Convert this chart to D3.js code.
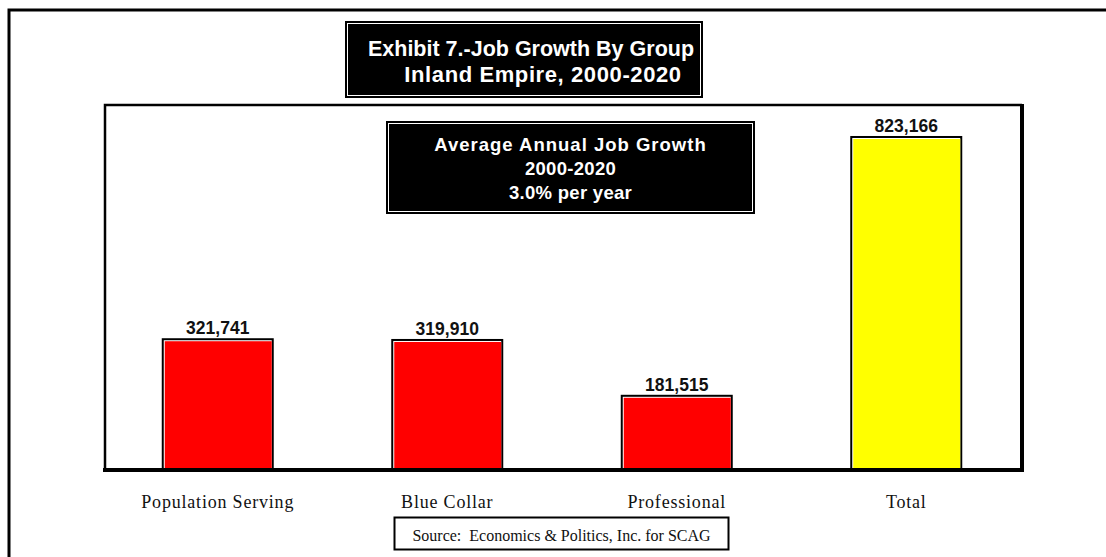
<!DOCTYPE html>
<html>
<head>
<meta charset="utf-8">
<script src="https://cdn.jsdelivr.net/npm/d3@7"></script>
<style>
  html, body { margin: 0; padding: 0; background: #fff; }
  svg { display: block; }
  .bold { font-family: "Liberation Sans", Arial, sans-serif; font-weight: bold; }
  .serif { font-family: "Liberation Serif", "Times New Roman", serif; }
</style>
</head>
<body>
<svg id="chart" width="1106" height="557"></svg>
<script>
// Job growth by group, Inland Empire 2000-2020
const categories = ["Population Serving", "Blue Collar", "Professional", "Total"];
const jobGrowth = [321741, 319910, 181515, 823166];
const valueLabels = ["321,741", "319,910", "181,515", "823,166"];
const titleLines = ["Exhibit 7.-Job Growth By Group", "Inland Empire, 2000-2020"];
const noteLines = ["Average Annual Job Growth", "2000-2020", "3.0% per year"];
const sourceText = "Source:  Economics & Politics, Inc. for SCAG";

const data = categories.map((c, i) => ({ category: c, value: jobGrowth[i], label: valueLabels[i] }));

const svg = d3.select("#chart");

// plot area
const plot = { left: 105, right: 1022, top: 105, bottom: 470 };
const baseY = 468;

const x = d3.scaleBand()
  .domain(categories)
  .range([103, 1021])
  .paddingInner(0.512)
  .paddingOuter(0.256);

const y = d3.scaleLinear()
  .domain([0, 900000])
  .range([baseY, 105]);

// outer page frame (open to the right and bottom)
svg.append("path")
  .attr("d", "M9,557 V10 H1106")
  .attr("fill", "none")
  .attr("stroke", "#000")
  .attr("stroke-width", 3);

// plot frame: thin top/left, heavy right/bottom
svg.append("path")
  .attr("d", `M${plot.left},${plot.bottom} V${plot.top} H${plot.right}`)
  .attr("fill", "none").attr("stroke", "#000").attr("stroke-width", 2.5);
svg.append("path")
  .attr("d", `M${plot.right},${plot.top - 1} V${plot.bottom} H${plot.left - 2}`)
  .attr("fill", "none").attr("stroke", "#000").attr("stroke-width", 4);

// framed black box with a thin inner white rule
function framedBox(x0, y0, w, h) {
  const g = svg.append("g");
  g.append("rect").attr("x", x0).attr("y", y0).attr("width", w).attr("height", h).attr("fill", "#000");
  g.append("rect").attr("x", x0 + 2.5).attr("y", y0 + 2.5).attr("width", w - 5).attr("height", h - 5)
    .attr("fill", "none").attr("stroke", "#fff").attr("stroke-width", 1);
  return g;
}

// title box
const tBox = { x: 345, y: 21, w: 358, h: 77 };
const titleCenters = [531, 543];
const titleSizes = [21.5, 22];
framedBox(tBox.x, tBox.y, tBox.w, tBox.h)
  .selectAll("text").data(titleLines).join("text")
  .attr("class", "bold")
  .attr("x", (d, i) => titleCenters[i])
  .attr("y", (d, i) => 56 + i * 26)
  .attr("text-anchor", "middle")
  .attr("fill", "#fff")
  .attr("font-size", (d, i) => titleSizes[i])
  .style("letter-spacing", (d, i) => i === 1 ? "0.6px" : "0px")
  .text(d => d);

// bars: black outline, white inner rule, colored fill
const barFill = d => d.category === "Total" ? "#ffff00" : "#ff0000";
const bars = svg.append("g").selectAll("g").data(data).join("g");
bars.append("rect")
  .attr("x", d => x(d.category))
  .attr("y", d => y(d.value))
  .attr("width", x.bandwidth())
  .attr("height", d => baseY - y(d.value))
  .attr("fill", "#000");
bars.append("rect")
  .attr("x", d => x(d.category) + 2)
  .attr("y", d => y(d.value) + 2)
  .attr("width", x.bandwidth() - 4)
  .attr("height", d => baseY - y(d.value) - 2)
  .attr("fill", "#fff");
bars.append("rect")
  .attr("x", d => x(d.category) + 3)
  .attr("y", d => y(d.value) + 3)
  .attr("width", x.bandwidth() - 5)
  .attr("height", d => baseY - y(d.value) - 3)
  .attr("fill", barFill);

// value labels
svg.append("g").selectAll("text").data(data).join("text")
  .attr("class", "bold")
  .attr("x", d => x(d.category) + x.bandwidth() / 2)
  .attr("y", d => y(d.value) - 4)
  .attr("text-anchor", "middle")
  .attr("font-size", 17.5)
  .attr("fill", "#111")
  .text(d => d.label);

// redraw the heavy baseline over the bar bottoms
svg.append("line")
  .attr("x1", plot.left - 2).attr("x2", plot.right + 2)
  .attr("y1", plot.bottom).attr("y2", plot.bottom)
  .attr("stroke", "#000").attr("stroke-width", 4);

// note box
const nBox = { x: 386, y: 121, w: 369, h: 93 };
framedBox(nBox.x, nBox.y, nBox.w, nBox.h)
  .selectAll("text").data(noteLines).join("text")
  .attr("class", "bold")
  .attr("x", nBox.x + nBox.w / 2)
  .attr("y", (d, i) => 151 + i * 24)
  .attr("text-anchor", "middle")
  .attr("fill", "#fff")
  .attr("font-size", 18.5)
  .style("letter-spacing", (d, i) => i === 0 ? "1px" : "0.3px")
  .text(d => d);

// category axis
const xAxis = svg.append("g")
  .attr("transform", `translate(0,${plot.bottom})`)
  .call(d3.axisBottom(x).tickSize(0).tickPadding(0));
xAxis.select(".domain").remove();
xAxis.selectAll("text")
  .attr("class", "serif")
  .attr("dy", null)
  .attr("y", 38)
  .attr("font-size", 18)
  .attr("fill", "#111")
  .style("letter-spacing", "0.8px");

// source box
const sBox = { x: 394.5, y: 517.5, w: 334, h: 32 };
svg.append("rect")
  .attr("x", sBox.x).attr("y", sBox.y).attr("width", sBox.w).attr("height", sBox.h)
  .attr("fill", "#fff").attr("stroke", "#000").attr("stroke-width", 2);
svg.append("text")
  .attr("class", "serif")
  .attr("x", sBox.x + sBox.w / 2)
  .attr("y", 541)
  .attr("text-anchor", "middle")
  .attr("font-size", 16)
  .attr("fill", "#111")
  .style("white-space", "pre")
  .text(sourceText);
</script>
</body>
</html>
